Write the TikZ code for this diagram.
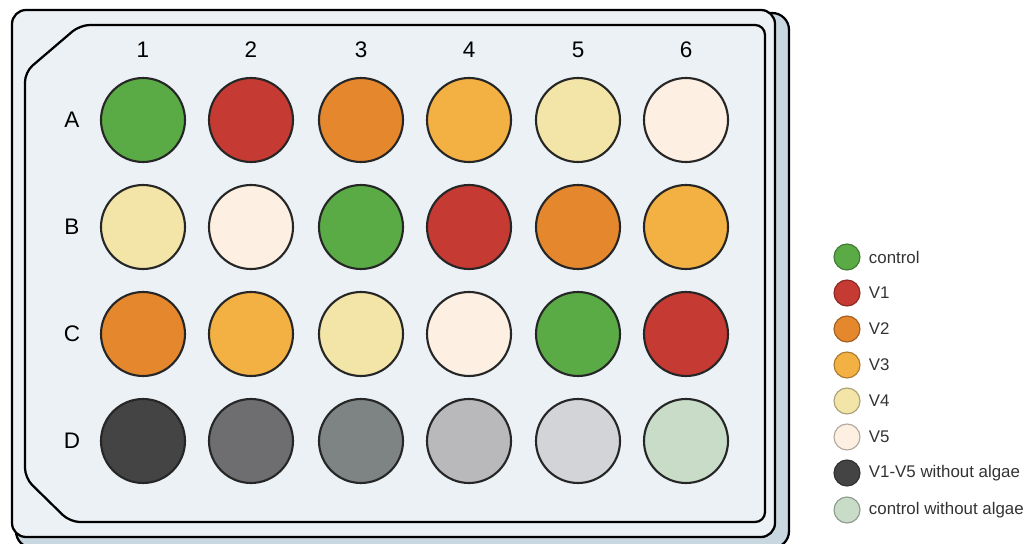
\documentclass[tikz,border=0pt]{standalone}
\usepackage{fontspec}
\setmainfont{Liberation Sans}
\definecolor{platefill}{HTML}{EBF1F5}
\definecolor{plateshade}{HTML}{C9D7E0}
\definecolor{ctrl}{HTML}{5AAB46}
\definecolor{vone}{HTML}{C53A32}
\definecolor{vtwo}{HTML}{E5872D}
\definecolor{vthree}{HTML}{F3B043}
\definecolor{vfour}{HTML}{F3E5A8}
\definecolor{vfive}{HTML}{FDF0E2}
\definecolor{dA}{HTML}{444444}
\definecolor{dB}{HTML}{6E6E70}
\definecolor{dC}{HTML}{7E8484}
\definecolor{dD}{HTML}{B9B9BC}
\definecolor{dE}{HTML}{D2D4D7}
\definecolor{dF}{HTML}{C8DCC8}
\tikzset{
  well/.style={circle, draw=black!85, line width=1.5pt, minimum size=21mm, inner sep=0pt},
  key/.style={circle, draw=#1!70!black, fill=#1, line width=0.8pt, minimum size=6.5mm, inner sep=0pt},
  keytext/.style={anchor=west, font=\fontsize{12}{14}\selectfont, text=black!80},
  plabel/.style={font=\fontsize{16}{18}\selectfont}
}
\begin{document}
\begin{tikzpicture}[x=0.25mm, y=-0.25mm]
\useasboundingbox (0,0) rectangle (1024,544);

% Plate body
\draw[line width=1.6pt, fill=plateshade, rounded corners=12] (16,13) rectangle (789,548);
\draw[line width=1.6pt, fill=platefill, rounded corners=10] (12,10) rectangle (775,537);
\draw[line width=1.6pt, rounded corners=7] (25,72) -- (80,25) -- (765,25) -- (765,522) -- (70,522) -- (25,478) -- cycle;

% Column and row labels
\node[plabel] (c1) at (143,50) {1};
\node[plabel] (c2) at (251,50) {2};
\node[plabel] (c3) at (361,50) {3};
\node[plabel] (c4) at (469,50) {4};
\node[plabel] (c5) at (578,50) {5};
\node[plabel] (c6) at (686,50) {6};
\node[plabel] (rA) at (72,120) {A};
\node[plabel] (rB) at (72,227) {B};
\node[plabel] (rC) at (72,334) {C};
\node[plabel] (rD) at (72,441) {D};

% Wells, row A
\node[well, fill=ctrl]   (A1) at (143,120) {};
\node[well, fill=vone]   (A2) at (251,120) {};
\node[well, fill=vtwo]   (A3) at (361,120) {};
\node[well, fill=vthree] (A4) at (469,120) {};
\node[well, fill=vfour]  (A5) at (578,120) {};
\node[well, fill=vfive]  (A6) at (686,120) {};
% Wells, row B
\node[well, fill=vfour]  (B1) at (143,227) {};
\node[well, fill=vfive]  (B2) at (251,227) {};
\node[well, fill=ctrl]   (B3) at (361,227) {};
\node[well, fill=vone]   (B4) at (469,227) {};
\node[well, fill=vtwo]   (B5) at (578,227) {};
\node[well, fill=vthree] (B6) at (686,227) {};
% Wells, row C
\node[well, fill=vtwo]   (C1) at (143,334) {};
\node[well, fill=vthree] (C2) at (251,334) {};
\node[well, fill=vfour]  (C3) at (361,334) {};
\node[well, fill=vfive]  (C4) at (469,334) {};
\node[well, fill=ctrl]   (C5) at (578,334) {};
\node[well, fill=vone]   (C6) at (686,334) {};
% Wells, row D
\node[well, fill=dA] (D1) at (143,441) {};
\node[well, fill=dB] (D2) at (251,441) {};
\node[well, fill=dC] (D3) at (361,441) {};
\node[well, fill=dD] (D4) at (469,441) {};
\node[well, fill=dE] (D5) at (578,441) {};
\node[well, fill=dF] (D6) at (686,441) {};

% Legend
\node[key=ctrl]   (k1) at (847,257) {};
\node[key=vone]   (k2) at (847,293) {};
\node[key=vtwo]   (k3) at (847,329) {};
\node[key=vthree] (k4) at (847,365) {};
\node[key=vfour]  (k5) at (847,401) {};
\node[key=vfive]  (k6) at (847,437) {};
\node[key=dA]     (k7) at (847,473) {};
\node[key=dF]     (k8) at (847,510) {};
\node[keytext] (t1) at (864,257) {control};
\node[keytext] (t2) at (864,293) {V1};
\node[keytext] (t3) at (864,329) {V2};
\node[keytext] (t4) at (864,365) {V3};
\node[keytext] (t5) at (864,401) {V4};
\node[keytext] (t6) at (864,437) {V5};
\node[keytext] (t7) at (864,473) {V1-V5 without algae};
\node[keytext] (t8) at (864,510) {control without algae};
\end{tikzpicture}
\end{document}
